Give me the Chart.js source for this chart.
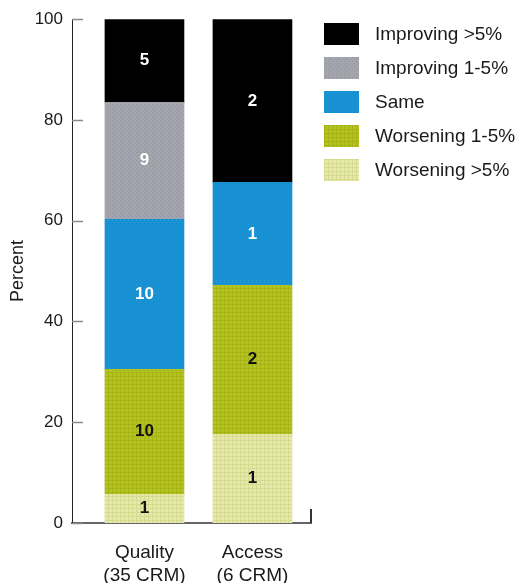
<!DOCTYPE html>
<html>
<head>
<meta charset="utf-8">
<script src="https://cdn.jsdelivr.net/npm/chart.js@4.4.1/dist/chart.umd.min.js"></script>
<style>
	html, body { margin: 0; padding: 0; background: #fff; }
	#wrap { position: relative; width: 520px; height: 583px; }
	#legend { position: absolute; left: 324px; top: 23px; font-family: "Liberation Sans", Arial, sans-serif; font-size: 19px; color: #1a1a1a; }
	.item { display: flex; align-items: center; height: 22px; margin-bottom: 12px; white-space: nowrap; }
	.box { width: 35px; height: 22px; margin-right: 16px; }
</style>
</head>
<body>
<div id="wrap">
	<canvas id="trendChart" width="520" height="583"></canvas>
	<div id="legend"></div>
</div>
<script>
// categories (x axis), two-line labels
const categories = [["Quality", "(35 CRM)"], ["Access", "(6 CRM)"]];

// series, bottom of stack first
const seriesNames = ["Worsening >5%", "Worsening 1-5%", "Same", "Improving 1-5%", "Improving >5%"];

// percent of measures per category
const worseningBig = [5.7, 17.6];
const worseningSmall = [24.8, 29.6];
const same = [29.8, 20.4];
const improvingSmall = [23.2, 0];
const improvingBig = [16.5, 32.4];

// number of measures printed inside each segment
const worseningBigN = [1, 1];
const worseningSmallN = [10, 2];
const sameN = [10, 1];
const improvingSmallN = [9, null];
const improvingBigN = [5, 2];

const yTicks = [0, 20, 40, 60, 80, 100];

const seriesValues = [worseningBig, worseningSmall, same, improvingSmall, improvingBig];
const seriesCounts = [worseningBigN, worseningSmallN, sameN, improvingSmallN, improvingBigN];

const FONT = "'Liberation Sans', Arial, Helvetica, sans-serif";

// fill textures like the print graphic
function makeTile(base, accent, kind) {
	const c = document.createElement("canvas");
	c.width = 4; c.height = 4;
	const g = c.getContext("2d");
	g.fillStyle = base;
	g.fillRect(0, 0, 4, 4);
	if (accent) {
		g.fillStyle = accent;
		if (kind === "grid") {
			g.fillRect(0, 0, 4, 1);
			g.fillRect(0, 0, 1, 4);
		} else {
			g.fillRect(0, 0, 1, 1);
			g.fillRect(2, 2, 1, 1);
		}
	}
	return c;
}

const tiles = [
	makeTile("#e6e8ae", "#d6da8e", "grid"),
	makeTile("#b5c31e", "#a6b418", "grid"),
	makeTile("#1590d0", "#2a9ade", "dots"),
	makeTile("#a5a5ac", "#8e8ea2", "dots"),
	makeTile("#000000", null)
];
const labelColors = ["#111", "#111", "#fff", "#fff", "#fff"];

const canvas = document.getElementById("trendChart");
const c2d = canvas.getContext("2d");

const innerTicks = {
	id: "innerTicks",
	afterDraw(chart) {
		const { ctx, chartArea: a, scales: { y } } = chart;
		ctx.save();
		ctx.strokeStyle = "#8a8a8a";
		ctx.lineWidth = 1.5;
		y.ticks.forEach(t => {
			const py = Math.round(y.getPixelForValue(t.value)) + 0.5;
			ctx.beginPath();
			ctx.moveTo(a.left, py);
			ctx.lineTo(a.left + 11, py);
			ctx.stroke();
		});
		// small closing tick at the right end of the baseline
		ctx.strokeStyle = "#333";
		ctx.lineWidth = 2;
		ctx.beginPath();
		ctx.moveTo(a.right, a.bottom);
		ctx.lineTo(a.right, a.bottom - 14);
		ctx.stroke();
		ctx.restore();
	}
};

const countLabels = {
	id: "countLabels",
	afterDatasetsDraw(chart) {
		const ctx = chart.ctx;
		ctx.save();
		ctx.font = "bold 17px " + FONT;
		ctx.textAlign = "center";
		ctx.textBaseline = "middle";
		chart.data.datasets.forEach((ds, i) => {
			chart.getDatasetMeta(i).data.forEach((bar, j) => {
				const n = seriesCounts[i][j];
				if (n == null) return;
				const p = bar.getProps(["x", "y", "base"], true);
				ctx.fillStyle = labelColors[i];
				ctx.fillText(String(n), p.x, (p.y + p.base) / 2);
			});
		});
		ctx.restore();
	}
};

window.trendChart = new Chart(canvas, {
	type: "bar",
	data: {
		datasets: seriesNames.map((name, i) => ({
			label: name,
			data: seriesValues[i].map((v, j) => ({ x: j, y: v })),
			backgroundColor: c2d.createPattern(tiles[i], "repeat"),
			borderWidth: 0,
			barThickness: 79
		}))
	},
	options: {
		responsive: false,
		animation: false,
		layout: { padding: { left: 3, right: 209, top: 19, bottom: 0 } },
		plugins: {
			legend: { display: false },
			tooltip: { enabled: false }
		},
		scales: {
			x: {
				type: "linear",
				stacked: true,
				offset: false,
				min: -0.671,
				max: 1.542,
				afterBuildTicks: s => { s.ticks = categories.map((c, i) => ({ value: i })); },
				afterFit: s => { s.height = 60; },
				grid: { display: false, drawTicks: false, offset: false },
				border: { color: "#666", width: 2 },
				ticks: {
					padding: 18,
					color: "#1a1a1a",
					autoSkip: false,
					maxRotation: 0,
					font: { family: FONT, size: 19, lineHeight: 1.22 },
					callback: v => categories[v]
				}
			},
			y: {
				stacked: true,
				min: 0,
				max: 100,
				afterBuildTicks: s => { s.ticks = yTicks.map(v => ({ value: v })); },
				afterFit: s => { s.width = 69; },
				grid: { display: false, drawTicks: false },
				border: { color: "#222", width: 1 },
				ticks: {
					padding: 9,
					color: "#1a1a1a",
					font: { family: FONT, size: 17 }
				},
				title: {
					display: true,
					text: "Percent",
					color: "#1a1a1a",
					padding: { top: 4, bottom: 4 },
					font: { family: FONT, size: 18 }
				}
			}
		}
	},
	plugins: [innerTicks, countLabels]
});

// legend, top of stack first
const legend = document.getElementById("legend");
seriesNames.slice().reverse().forEach((name, k) => {
	const i = seriesNames.length - 1 - k;
	const item = document.createElement("div");
	item.className = "item";
	const box = document.createElement("div");
	box.className = "box";
	box.style.backgroundImage = "url(" + tiles[i].toDataURL() + ")";
	const txt = document.createElement("span");
	txt.textContent = name;
	item.appendChild(box);
	item.appendChild(txt);
	legend.appendChild(item);
});
</script>
</body>
</html>
